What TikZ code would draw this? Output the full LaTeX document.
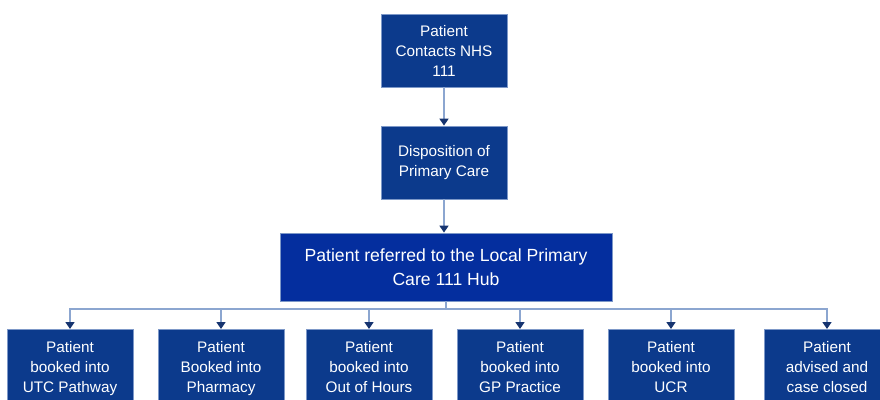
\documentclass[tikz,border=0pt]{standalone}
\usepackage{fontspec}
\setmainfont{Liberation Sans}
\usetikzlibrary{arrows.meta,positioning}
\definecolor{boxBlue}{RGB}{12,58,140}
\definecolor{hubBlue}{RGB}{4,46,158}
\definecolor{rimBlue}{RGB}{125,152,200}
\definecolor{lineBlue}{RGB}{140,166,208}
\definecolor{tipBlue}{RGB}{22,52,112}

\begin{document}
\begin{tikzpicture}
[x=1pt,y=-1pt,
 lineDecorate/.style={-{Triangle[width=9pt,length=7pt,color=tipBlue]},draw=lineBlue,line width=1.6pt},
 nodeDecorate/.style={shape=rectangle,draw=rimBlue,line width=0.8pt,fill=boxBlue,text=white,align=center,minimum width=126pt,font=\fontsize{15.3}{20}\selectfont}]

 \clip (0,0) rectangle (880,399);
 \useasboundingbox (0,0) rectangle (880,399);

 \node (T) at (444,50.5) [nodeDecorate, minimum height=73pt] {Patient\\Contacts NHS\\111};
 \node (D) at (444,162.5) [nodeDecorate, minimum height=73pt] {Disposition of\\Primary Care};
 \node (H) at (446,267) [nodeDecorate, fill=hubBlue, minimum width=332pt, minimum height=68pt, font=\fontsize{17.6}{24}\selectfont] {Patient referred to the Local Primary\\Care 111 Hub};

 \foreach \i/\x/\txt in {1/70/{Patient\\booked into\\UTC Pathway},
                         2/221/{Patient\\Booked into\\Pharmacy},
                         3/369/{Patient\\booked into\\Out of Hours},
                         4/520/{Patient\\booked into\\GP Practice},
                         5/671/{Patient\\booked into\\UCR},
                         6/827/{Patient\\advised and\\case closed}}
 {
          \node (B\i) at (\x,329) [nodeDecorate, anchor=north, inner ysep=12pt] {\txt};
 }

 \coordinate (bus) at (H.south |- 0,309);
 \draw[draw=lineBlue, line width=1.6pt] (H.south) -- (bus);
\path
(T) edge[lineDecorate] (D)
(D.south) edge[lineDecorate] (D.south |- H.north);
 \foreach \i in {1,2,3,4,5,6}
 {
          \draw[lineDecorate] (bus) -| (B\i.north);
 }
\end{tikzpicture}
\end{document}
